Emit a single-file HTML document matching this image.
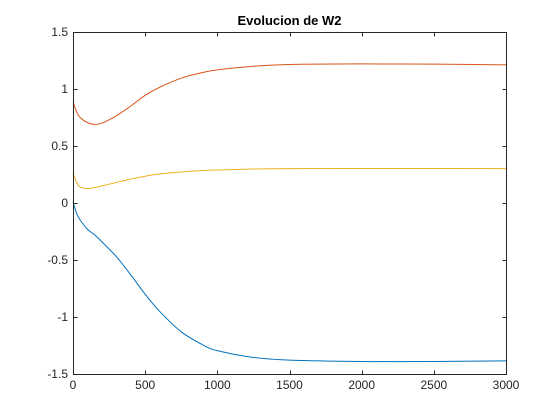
<!DOCTYPE html>
<html><head><meta charset="utf-8"><style>
body{margin:0;background:#fff}
svg{display:block;font-family:"Liberation Sans",Arial,sans-serif}
</style></head><body>
<svg id="chart" width="560" height="420" viewBox="0 0 560 420">
<rect x="0" y="0" width="560" height="420" fill="#fff"/>
<rect x="73" y="32" width="433" height="342" fill="#fff" stroke="none"/>
<g id="series"></g>
<g id="axes"></g>
<text x="289.5" y="25" text-anchor="middle" font-size="13" font-weight="bold" fill="#000">Evolucion de W2</text>
</svg>
<script>
const xTicks=[0,500,1000,1500,2000,2500,3000];
const yTicks=[-1.5,-1,-0.5,0,0.5,1,1.5];
const yTickLabels=["-1.5","-1","-0.5","0","0.5","1","1.5"];
const xVals=[0,25,50,100,150,200,300,400,500,600,750,900,1000,1250,1500,2000,2500,3000];
const redVals=[0.89,0.80,0.75,0.705,0.69,0.70,0.765,0.85,0.945,1.015,1.095,1.145,1.168,1.20,1.215,1.22,1.218,1.212];
const yellowVals=[0.265,0.18,0.14,0.126,0.135,0.15,0.18,0.21,0.235,0.255,0.272,0.285,0.29,0.298,0.302,0.303,0.303,0.302];
const blueVals=[0.01,-0.09,-0.15,-0.23,-0.28,-0.34,-0.47,-0.63,-0.80,-0.95,-1.13,-1.245,-1.295,-1.355,-1.378,-1.39,-1.39,-1.385];
const X0=73,X1=506,Y0=32,Y1=374;
const sx=v=>X0+(v-0)/(3000-0)*(X1-X0);
const sy=v=>Y1-(v+1.5)/3*(Y1-Y0);
const NS="http://www.w3.org/2000/svg";
const sg=document.getElementById('series'), ag=document.getElementById('axes');
function smoothPath(pts){
  let d='M'+pts[0][0].toFixed(2)+','+pts[0][1].toFixed(2);
  for(let i=0;i<pts.length-1;i++){
    const p0=pts[Math.max(0,i-1)],p1=pts[i],p2=pts[i+1],p3=pts[Math.min(pts.length-1,i+2)];
    const c1=[p1[0]+(p2[0]-p0[0])/6,p1[1]+(p2[1]-p0[1])/6];
    const c2=[p2[0]-(p3[0]-p1[0])/6,p2[1]-(p3[1]-p1[1])/6];
    d+=' C'+c1.map(v=>v.toFixed(2)).join(',')+' '+c2.map(v=>v.toFixed(2)).join(',')+' '+p2[0].toFixed(2)+','+p2[1].toFixed(2);
  }
  return d;
}
function line(vals,color,name){
  const p=document.createElementNS(NS,'path');
  p.setAttribute('d',smoothPath(xVals.map((x,i)=>[sx(x),sy(vals[i])])));
  p.setAttribute('fill','none');p.setAttribute('stroke',color);p.setAttribute('stroke-width','1');
  
  
  sg.appendChild(p);
}
line(blueVals,'#0072bd','series-blue-line');
line(redVals,'#d95319','series-red-line');
line(yellowVals,'#edb120','series-yellow-line');
const box=document.createElementNS(NS,'rect');
box.setAttribute('x',X0+0.5);box.setAttribute('y',Y0+0.5);box.setAttribute('width',X1-X0);box.setAttribute('height',Y1-Y0);
box.setAttribute('fill','none');box.setAttribute('stroke','#262626');box.setAttribute('stroke-width','1');


ag.appendChild(box);
xTicks.forEach(t=>{
  const x=Math.round(sx(t))+0.5;
  [[Y1,Y1-4],[Y0,Y0+4]].forEach(([a,b])=>{
    const l=document.createElementNS(NS,'line');
    l.setAttribute('x1',x);l.setAttribute('x2',x);l.setAttribute('y1',a+0.5);l.setAttribute('y2',b+0.5);l.setAttribute('stroke','#262626');
    
    
    ag.appendChild(l);
  });
  const tx=document.createElementNS(NS,'text');
  tx.setAttribute('x',sx(t));tx.setAttribute('y',Y1+15);tx.setAttribute('text-anchor','middle');tx.setAttribute('font-size','12');tx.setAttribute('fill','#262626');
  tx.textContent=String(t);
  
  
  ag.appendChild(tx);
});
yTicks.forEach((t,i)=>{
  const y=Math.round(sy(t))+0.5;
  [[X0,X0+4],[X1,X1-4]].forEach(([a,b])=>{
    const l=document.createElementNS(NS,'line');
    l.setAttribute('x1',a+0.5);l.setAttribute('x2',b+0.5);l.setAttribute('y1',y);l.setAttribute('y2',y);l.setAttribute('stroke','#262626');
    
    
    ag.appendChild(l);
  });
  const tx=document.createElementNS(NS,'text');
  tx.setAttribute('x',X0-5);tx.setAttribute('y',sy(t)+4);tx.setAttribute('text-anchor','end');tx.setAttribute('font-size','12');tx.setAttribute('fill','#262626');
  tx.textContent=yTickLabels[i];
  
  
  ag.appendChild(tx);
});
</script>
</body></html>
